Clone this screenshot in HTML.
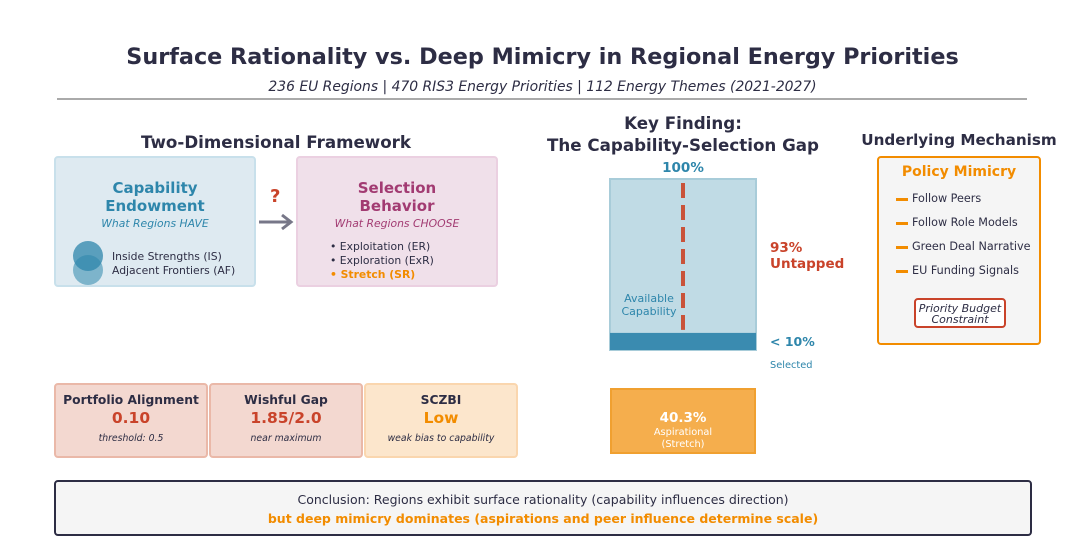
<!DOCTYPE html>
<html><head><meta charset="utf-8"><style>
body{margin:0;width:1085px;height:549px;background:#fff;font-family:"DejaVu Sans","Liberation Sans",sans-serif;color:#2d2d44;position:relative;overflow:hidden}
div,span{position:absolute;box-sizing:border-box}
.c{text-align:center}
.box{border-radius:4px}
</style></head><body>
<div class="c" style="left:0;width:1085px;top:44px;font-size:22.3px;font-weight:bold">Surface Rationality vs. Deep Mimicry in Regional Energy Priorities</div>
<div class="c" style="left:0;width:1085px;top:79px;font-size:13.9px;font-style:italic">236 EU Regions | 470 RIS3 Energy Priorities | 112 Energy Themes (2021-2027)</div>
<div style="left:57px;top:98px;width:970px;height:2px;background:#aaa"></div>

<div class="c" style="left:76px;width:400px;top:132px;font-size:16.7px;font-weight:bold">Two-Dimensional Framework</div>
<div class="box c" style="left:54px;top:156px;width:202px;height:131px;background:#deeaf1;border:2px solid #c8e0eb">
 <div style="left:0;width:198px;top:21px;font-size:15px;font-weight:bold;color:#2e86ab;line-height:18px">Capability<br>Endowment</div>
 <div style="left:0;width:198px;top:59px;font-size:10.8px;font-style:italic;color:#2e86ab">What Regions HAVE</div>
 <div style="left:17px;top:83px;width:32px;height:44px">
  <div style="left:0;top:14px;width:30px;height:30px;border-radius:50%;background:rgba(46,134,171,0.55)"></div>
  <div style="left:0;top:0;width:30px;height:30px;border-radius:50%;background:rgba(46,134,171,0.75)"></div>
 </div>
 <div style="left:56px;top:92px;font-size:10.8px;text-align:left;line-height:14px;white-space:nowrap">Inside Strengths (IS)<br>Adjacent Frontiers (AF)</div>
</div>
<div style="left:270px;top:186px;font-size:18px;font-weight:bold;color:#c9432a">?</div>
<svg style="position:absolute;left:256px;top:212px" width="40" height="20"><path d="M3 10H35M26 3L35 10L26 17" stroke="#777788" stroke-width="3" fill="none"/></svg>
<div class="box c" style="left:296px;top:156px;width:202px;height:131px;background:#f0e0ea;border:2px solid #ebd0e1">
 <div style="left:0;width:198px;top:21px;font-size:15px;font-weight:bold;color:#a23b72;line-height:18px">Selection<br>Behavior</div>
 <div style="left:0;width:198px;top:59px;font-size:10.8px;font-style:italic;color:#a23b72">What Regions CHOOSE</div>
 <div style="left:32px;top:82px;font-size:10.8px;text-align:left;line-height:14px;white-space:nowrap">• Exploitation (ER)<br>• Exploration (ExR)<br><b style="color:#f28c00">• Stretch (SR)</b></div>
</div>

<div class="box c" style="left:54px;top:383px;width:154px;height:75px;background:#f3d8d0;border:2px solid #eab8a8">
 <div style="left:0;width:150px;top:8px;font-size:12.3px;font-weight:bold">Portfolio Alignment</div>
 <div style="left:0;width:150px;top:24px;font-size:15.5px;font-weight:bold;color:#c9432a">0.10</div>
 <div style="left:0;width:150px;top:48px;font-size:9.3px;font-style:italic">threshold: 0.5</div>
</div>
<div class="box c" style="left:209px;top:383px;width:154px;height:75px;background:#f3d8d0;border:2px solid #eab8a8">
 <div style="left:0;width:150px;top:8px;font-size:12.3px;font-weight:bold">Wishful Gap</div>
 <div style="left:0;width:150px;top:24px;font-size:15.5px;font-weight:bold;color:#c9432a">1.85/2.0</div>
 <div style="left:0;width:150px;top:48px;font-size:9.3px;font-style:italic">near maximum</div>
</div>
<div class="box c" style="left:364px;top:383px;width:154px;height:75px;background:#fce6cc;border:2px solid #fad6ae">
 <div style="left:0;width:150px;top:8px;font-size:12.3px;font-weight:bold">SCZBI</div>
 <div style="left:0;width:150px;top:24px;font-size:15.5px;font-weight:bold;color:#f28c00">Low</div>
 <div style="left:0;width:150px;top:48px;font-size:9.3px;font-style:italic">weak bias to capability</div>
</div>

<div class="c" style="left:533px;width:300px;top:112px;font-size:16.7px;font-weight:bold;line-height:22px">Key Finding:<br>The Capability-Selection Gap</div>
<svg id="gap" style="position:absolute;left:600px;top:150px" width="270" height="320"></svg>
<script>
const totalLabel = "100%";
const selectedShare = [10];
const untappedShare = [93];
const aspirationalShare = [40.3];
const svg = document.getElementById('gap');
const NS = 'http://www.w3.org/2000/svg';
const barTop = 29, barBottom = 200, barX = 10, barW = 146;
function y(v){ return barBottom - (barBottom - barTop) * v / 100; }
function mk(tag, attrs, text){ const e=document.createElementNS(NS,tag); for(const k in attrs) e.setAttribute(k,attrs[k]); if(text!==undefined) e.textContent=text; svg.appendChild(e); return e; }
let t = mk('text',{x:83,y:22,'text-anchor':'middle','font-size':13.5,'font-weight':'bold',fill:'#2e86ab'},totalLabel);


let b = mk('rect',{x:barX,y:y(100),width:barW,height:y(0)-y(100),fill:'#c0dbe5',stroke:'#a8ccd9','stroke-width':2});


let s = mk('rect',{x:barX,y:y(selectedShare[0]),width:barW,height:y(0)-y(selectedShare[0]),fill:'#3a8bb0'});


let d = mk('line',{x1:83,x2:83,y1:y(100)+4,y2:y(selectedShare[0])-3,stroke:'#c9533a','stroke-width':4,'stroke-dasharray':'15 7'});


let a = mk('text',{x:49,y:152,'text-anchor':'middle','font-size':11,fill:'#2e86ab'});


a.innerHTML='<tspan x="49">Available</tspan><tspan x="49" dy="13">Capability</tspan>';
let u = mk('text',{x:170,y:102,'font-size':13.5,'font-weight':'bold',fill:'#c9432a'});


u.innerHTML='<tspan x="170">'+untappedShare[0]+'%</tspan><tspan x="170" dy="16">Untapped</tspan>';
let sl = mk('text',{x:170,y:196,'font-size':12.5,'font-weight':'bold',fill:'#2e86ab'},'< '+selectedShare[0]+'%');


let ss = mk('text',{x:170,y:218,'font-size':9.8,fill:'#2e86ab'},'Selected');


let o = mk('rect',{x:barX+1,y:239,width:barW-2,height:64,fill:'#f5ae4d',stroke:'#f0a030','stroke-width':2});


let ov = mk('text',{x:83,y:272,'text-anchor':'middle','font-size':13.5,'font-weight':'bold',fill:'#fff'},aspirationalShare[0]+'%');


let ol = mk('text',{x:83,y:285,'text-anchor':'middle','font-size':9.8,fill:'#fff'});


ol.innerHTML='<tspan x="83">Aspirational</tspan><tspan x="83" dy="12">(Stretch)</tspan>';
</script>

<div class="c" style="left:849px;width:220px;top:131px;font-size:15.2px;font-weight:bold">Underlying Mechanism</div>
<div class="box" style="left:877px;top:156px;width:164px;height:189px;background:#f5f5f5;border:2px solid #f28c00">
 <div class="c" style="left:0;width:160px;top:6px;font-size:14px;font-weight:bold;color:#f28c00">Policy Mimicry</div>
 <div style="left:17px;top:29px;font-size:11.2px;line-height:24px;white-space:nowrap"><span style="position:relative;display:inline-block;width:12px;height:3px;background:#f28c00;vertical-align:middle;margin-right:4px"></span>Follow Peers<br><span style="position:relative;display:inline-block;width:12px;height:3px;background:#f28c00;vertical-align:middle;margin-right:4px"></span>Follow Role Models<br><span style="position:relative;display:inline-block;width:12px;height:3px;background:#f28c00;vertical-align:middle;margin-right:4px"></span>Green Deal Narrative<br><span style="position:relative;display:inline-block;width:12px;height:3px;background:#f28c00;vertical-align:middle;margin-right:4px"></span>EU Funding Signals</div>
 <div class="c" style="left:35px;top:140px;width:92px;height:30px;background:#fff;border:2px solid #c9432a;border-radius:4px;font-size:11px;font-style:italic;line-height:11px;padding-top:3px;white-space:nowrap">Priority Budget<br>Constraint</div>
</div>

<div class="box c" style="left:54px;top:480px;width:978px;height:56px;background:#f5f5f5;border:2px solid #2d2d44">
 <div style="left:0;width:974px;top:10px;font-size:12.5px">Conclusion: Regions exhibit surface rationality (capability influences direction)</div>
 <div style="left:0;width:974px;top:29px;font-size:12.5px;font-weight:bold;color:#f28c00">but deep mimicry dominates (aspirations and peer influence determine scale)</div>
</div>
</body></html>
